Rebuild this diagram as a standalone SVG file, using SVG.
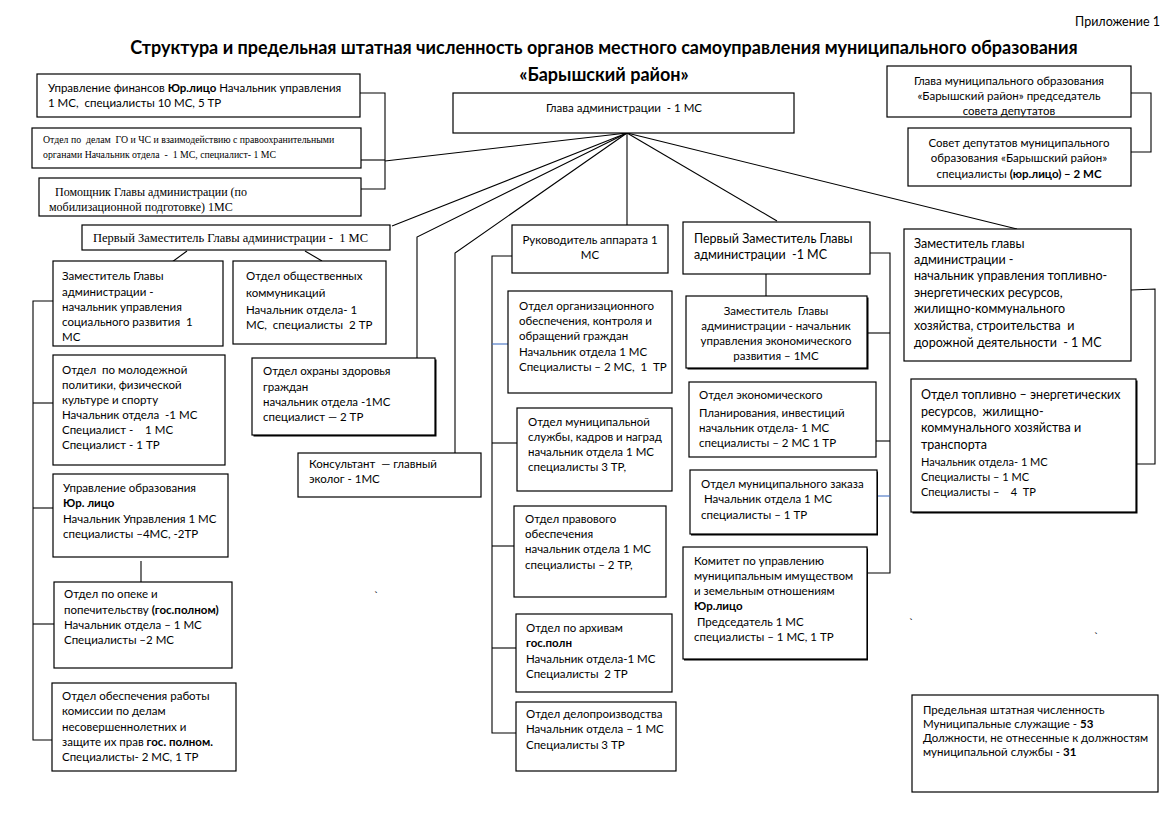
<svg xmlns="http://www.w3.org/2000/svg" width="1170" height="827" viewBox="0 0 1170 827">
<style>
.bx{fill:#fff;stroke:#000;stroke-width:1.2}
.sh{fill:#000;stroke:none}
.t{font-family:Lato,"Open Sans","Liberation Sans",sans-serif;font-size:11.5px;fill:#000;white-space:pre}
.m{font-size:12.5px}
.sm{font-size:11px}
.sr{font-family:"Liberation Serif",serif;fill:#000;white-space:pre}
.ct{text-anchor:middle}
.b{font-weight:bold}
.ttl{font-family:Lato,"Open Sans","Liberation Sans",sans-serif;font-size:18px;font-weight:bold;fill:#000;text-anchor:middle}
.ln{fill:none;stroke:#000;stroke-width:1.1}
.bl{fill:none;stroke:#4472c4;stroke-width:1.1}
</style>
<rect width="1170" height="827" fill="#fff"/>
<text class="t" x="1160" y="26" text-anchor="end" style="font-size:12.5px">Приложение 1</text>
<text class="ttl" x="604" y="54">Структура и предельная штатная численность органов местного самоуправления муниципального образования</text>
<text class="ttl" x="604" y="81">«Барышский район»</text>

<g id="connectors">
<line class="ln" x1="627" y1="133" x2="385" y2="161"/>
<line class="ln" x1="627" y1="133" x2="392" y2="226"/>
<polyline class="ln" points="627,133 417,237 417,358"/>
<polyline class="ln" points="627,133 455,253 455,453"/>
<line class="ln" x1="627" y1="133" x2="627" y2="225"/>
<line class="ln" x1="627" y1="133" x2="777" y2="221"/>
<line class="ln" x1="627" y1="133" x2="1017" y2="229"/>
<polyline class="ln" points="360,93 385,93 385,189 361,189"/>
<line class="ln" x1="361" y1="160" x2="385" y2="160"/>
<polyline class="ln" points="1131,93 1151,93 1151,152 1131,152"/>
<line class="ln" x1="187" y1="251" x2="172" y2="262"/>
<line class="ln" x1="305" y1="251" x2="322" y2="261"/>
<polyline class="ln" points="53,301 33,301 33,740 52,740"/>
<line class="ln" x1="33" y1="403" x2="53" y2="403"/>
<line class="ln" x1="33" y1="508" x2="53" y2="508"/>
<line class="ln" x1="33" y1="624" x2="54" y2="624"/>
<line class="ln" x1="141" y1="561" x2="141" y2="582"/>
<polyline class="ln" points="512,256 492,256 492,733 516,733"/>
<line class="bl" x1="492" y1="344" x2="508" y2="344"/>
<line class="ln" x1="492" y1="443" x2="517" y2="443"/>
<line class="ln" x1="492" y1="546" x2="514" y2="546"/>
<line class="ln" x1="492" y1="648" x2="516" y2="648"/>
<polyline class="ln" points="870,253 890,253 890,573 867,573"/>
<line class="ln" x1="867" y1="333" x2="890" y2="333"/>
<line class="ln" x1="876" y1="441" x2="890" y2="441"/>
<line class="bl" x1="877" y1="496" x2="890" y2="496"/>
<line class="ln" x1="766" y1="274" x2="766" y2="296"/>
<polyline class="ln" points="1131,290 1155,289 1155,464 1136,464"/>
</g>

<g id="n-finance">
<rect class="bx" x="37" y="74" width="323" height="43"/>
<text class="t" x="48" y="92">Управление финансов <tspan class="b">Юр.лицо</tspan> Начальник управления</text>
<text class="t" x="48" y="107">1 МС,  специалисты 10 МС, 5 ТР</text>
</g>
<g id="n-go">
<rect class="bx" x="32" y="128" width="329" height="40"/>
<text class="sr" x="43" y="143" style="font-size:9.8px">Отдел по  делам  ГО и ЧС и взаимодействию с правоохранительными</text>
<text class="sr" x="43" y="158" style="font-size:9.8px">органами Начальник отдела  -  1 МС, специалист- 1 МС</text>
</g>
<g id="n-pomoshnik">
<rect class="bx" x="39" y="178" width="322" height="38"/>
<text class="sr" x="52" y="196" style="font-size:12px"> Помощник Главы администрации (по</text>
<text class="sr" x="49" y="211" style="font-size:12px">мобилизационной подготовке) 1МС</text>
</g>
<g id="n-glava">
<rect class="bx" x="453" y="93" width="341" height="40"/>
<text class="t ct" x="624" y="112">Глава администрации  - 1 МС</text>
</g>
<g id="n-glava-mo">
<rect class="bx" x="887" y="66" width="244" height="51"/>
<text class="t ct" x="1009" y="85">Глава муниципального образования</text>
<text class="t ct" x="1009" y="100">«Барышский район» председатель</text>
<text class="t ct" x="1009" y="115">совета депутатов</text>
</g>
<g id="n-sovet">
<rect class="bx" x="908" y="128" width="223" height="58"/>
<text class="t ct" x="1019" y="147">Совет депутатов муниципального</text>
<text class="t ct" x="1019" y="162">образования «Барышский район»</text>
<text class="t ct" x="1019" y="178">специалисты <tspan class="b">(юр.лицо) – 2 МС</tspan></text>
</g>

<g id="n-first-dep-left">
<rect class="bx" x="82" y="225" width="308" height="25"/>
<text class="sr" x="93" y="242" style="font-size:12.5px">Первый Заместитель Главы администрации -  1 МС</text>
</g>
<g id="n-ruk-apparata">
<rect class="bx" x="512" y="225" width="156" height="48"/>
<text class="t ct" x="590" y="244">Руководитель аппарата 1</text>
<text class="t ct" x="590" y="259">МС</text>
</g>
<g id="n-first-dep-right">
<rect class="bx" x="683" y="222" width="187" height="52"/>
<text class="t m" x="694" y="243">Первый Заместитель Главы</text>
<text class="t m" x="694" y="259">администрации  -1 МС</text>
</g>
<g id="n-zam-toplivo">
<rect class="bx" x="904" y="229" width="227" height="132"/>
<text class="t m" x="914" y="248">Заместитель главы</text>
<text class="t m" x="914" y="264">администрации -</text>
<text class="t m" x="914" y="280">начальник управления топливно-</text>
<text class="t m" x="914" y="297">энергетических ресурсов,</text>
<text class="t m" x="914" y="313">жилищно-коммунального</text>
<text class="t m" x="914" y="330">хозяйства, строительства  и</text>
<text class="t m" x="914" y="347">дорожной деятельности  - 1 МС</text>
</g>

<g id="n-zam-social">
<rect class="bx" x="53" y="261" width="170" height="85"/>
<text class="t" x="62" y="280">Заместитель Главы</text>
<text class="t" x="62" y="296">администрации -</text>
<text class="t" x="62" y="311">начальник управления</text>
<text class="t" x="62" y="326">социального развития  1</text>
<text class="t" x="62" y="341">МС</text>
</g>
<g id="n-obsh-komm">
<rect class="bx" x="233" y="261" width="153" height="83"/>
<text class="t" x="246" y="280">Отдел общественных</text>
<text class="t" x="246" y="297">коммуникаций</text>
<text class="t" x="246" y="314">Начальник отдела- 1</text>
<text class="t" x="246" y="329">МС,  специалисты  2 ТР</text>
</g>
<g id="n-molodezh">
<rect class="bx" x="53" y="355" width="172" height="110"/>
<text class="t" x="62" y="374">Отдел  по молодежной</text>
<text class="t" x="62" y="389">политики, физической</text>
<text class="t" x="62" y="404">культуре и спорту</text>
<text class="t" x="62" y="419">Начальник отдела  -1 МС</text>
<text class="t" x="62" y="434">Специалист -    1 МС</text>
<text class="t" x="62" y="449">Специалист - 1 ТР</text>
</g>
<g id="n-zdorovie">
<rect class="sh" x="253.5" y="359.5" width="183" height="77"/>
<rect class="bx" x="252" y="358" width="183" height="77"/>
<text class="t" x="263" y="375">Отдел охраны здоровья</text>
<text class="t" x="263" y="391">граждан</text>
<text class="t" x="263" y="406">начальник отдела -1МС</text>
<text class="t" x="263" y="421">специалист — 2 ТР</text>
</g>
<g id="n-konsultant">
<rect class="bx" x="298" y="453" width="183" height="44"/>
<text class="t" x="309" y="468">Консультант  — главный</text>
<text class="t" x="309" y="483">эколог - 1МС</text>
</g>
<g id="n-obrazovanie">
<rect class="bx" x="53" y="474" width="175" height="83"/>
<text class="t" x="63" y="492">Управление образования</text>
<text class="t b" x="63" y="507">Юр. лицо</text>
<text class="t" x="63" y="523">Начальник Управления 1 МС</text>
<text class="t" x="63" y="538">специалисты –4МС, -2ТР</text>
</g>
<g id="n-opeka">
<rect class="bx" x="54" y="582" width="178" height="86"/>
<text class="t" x="64" y="598">Отдел по опеке и</text>
<text class="t" x="64" y="614">попечительству <tspan class="b">(гос.полном)</tspan></text>
<text class="t" x="64" y="629">Начальник отдела – 1 МС</text>
<text class="t" x="64" y="644">Специалисты –2 МС</text>
</g>
<g id="n-kdn">
<rect class="bx" x="52" y="683" width="184" height="88"/>
<text class="t" x="62" y="700">Отдел обеспечения работы</text>
<text class="t" x="62" y="715">комиссии по делам</text>
<text class="t" x="62" y="731">несовершеннолетних и</text>
<text class="t" x="62" y="746">защите их прав <tspan class="b">гос. полном.</tspan></text>
<text class="t" x="62" y="761">Специалисты- 2 МС, 1 ТР</text>
</g>

<g id="n-org">
<rect class="bx" x="508" y="291" width="164" height="102"/>
<text class="t" x="519" y="310">Отдел организационного</text>
<text class="t" x="519" y="325">обеспечения, контроля и</text>
<text class="t" x="519" y="340">обращений граждан</text>
<text class="t" x="519" y="356">Начальник отдела 1 МС</text>
<text class="t" x="519" y="371">Специалисты – 2 МС,  1  ТР</text>
</g>
<g id="n-kadry">
<rect class="bx" x="517" y="408" width="155" height="83"/>
<text class="t" x="528" y="426">Отдел муниципальной</text>
<text class="t" x="528" y="441">службы, кадров и наград</text>
<text class="t" x="528" y="456">начальник отдела 1 МС</text>
<text class="t" x="528" y="471">специалисты 3 ТР,</text>
</g>
<g id="n-pravo">
<rect class="bx" x="514" y="506" width="152" height="91"/>
<text class="t" x="525" y="523">Отдел правового</text>
<text class="t" x="525" y="538">обеспечения</text>
<text class="t" x="525" y="553">начальник отдела 1 МС</text>
<text class="t" x="525" y="569">специалисты – 2 ТР,</text>
</g>
<g id="n-arhiv">
<rect class="bx" x="516" y="614" width="156" height="78"/>
<text class="t" x="526" y="632">Отдел по архивам</text>
<text class="t b" x="526" y="647">гос.полн</text>
<text class="t" x="526" y="663">Начальник отдела-1 МС</text>
<text class="t" x="526" y="678">Специалисты  2 ТР</text>
</g>
<g id="n-delo">
<rect class="bx" x="516" y="702" width="160" height="69"/>
<text class="t" x="526" y="718">Отдел делопроизводства</text>
<text class="t" x="526" y="733">Начальник отдела – 1 МС</text>
<text class="t" x="526" y="749">Специалисты 3 ТР</text>
</g>

<g id="n-zam-econ">
<rect class="sh" x="687.5" y="297.5" width="181" height="72"/>
<rect class="bx" x="686" y="296" width="181" height="72"/>
<text class="t ct" x="776" y="315">Заместитель  Главы</text>
<text class="t ct" x="776" y="330">администрации - начальник</text>
<text class="t ct" x="776" y="345">управления экономического</text>
<text class="t ct" x="776" y="360">развития – 1МС</text>
</g>
<g id="n-econ-plan">
<rect class="bx" x="689" y="382" width="187" height="75"/>
<text class="t" x="699" y="399">Отдел экономического</text>
<text class="t" x="699" y="417">Планирования, инвестиций</text>
<text class="t" x="699" y="432">начальник отдела- 1 МС</text>
<text class="t" x="699" y="447">специалисты – 2 МС 1 ТР</text>
</g>
<g id="n-zakaz">
<rect class="sh" x="691" y="471.5" width="187" height="64"/>
<rect class="bx" x="690" y="470" width="187" height="64"/>
<text class="t" x="701" y="488">Отдел муниципального заказа</text>
<text class="t" x="701" y="503"> Начальник отдела 1 МС</text>
<text class="t" x="701" y="519">специалисты – 1 ТР</text>
</g>
<g id="n-kumi">
<rect class="sh" x="684" y="548.5" width="184" height="112"/>
<rect class="bx" x="683" y="547" width="184" height="112"/>
<text class="t" x="694" y="565">Комитет по управлению</text>
<text class="t" x="694" y="580">муниципальным имуществом</text>
<text class="t" x="694" y="595">и земельным отношениям</text>
<text class="t b" x="694" y="610">Юр.лицо</text>
<text class="t" x="694" y="626"> Председатель 1 МС</text>
<text class="t" x="694" y="641">специалисты – 1 МС, 1 ТР</text>
</g>
<g id="n-toplivo">
<rect class="sh" x="912.5" y="380.5" width="225" height="133"/>
<rect class="bx" x="911" y="379" width="225" height="133"/>
<text class="t m" x="921" y="399">Отдел топливно – энергетических</text>
<text class="t m" x="921" y="416">ресурсов,  жилищно-</text>
<text class="t m" x="921" y="432">коммунального хозяйства и</text>
<text class="t m" x="921" y="449">транспорта</text>
<text class="t sm" x="921" y="466">Начальник отдела- 1 МС</text>
<text class="t sm" x="921" y="481">Специалисты – 1 МС</text>
<text class="t sm" x="921" y="496">Специалисты –    4  ТР</text>
</g>
<g id="n-itog">
<rect class="bx" x="912" y="695" width="246" height="97"/>
<text class="t" x="923" y="714">Предельная штатная численность</text>
<text class="t" x="923" y="728">Муниципальные служащие - <tspan class="b">53</tspan></text>
<text class="t" x="923" y="742">Должности, не отнесенные к должностям</text>
<text class="t" x="923" y="756">муниципальной службы - <tspan class="b">31</tspan></text>
</g>
<text class="t" x="374" y="600">`</text>
<text class="t" x="909" y="627">`</text>
<text class="t" x="1094" y="641">`</text>
</svg>
